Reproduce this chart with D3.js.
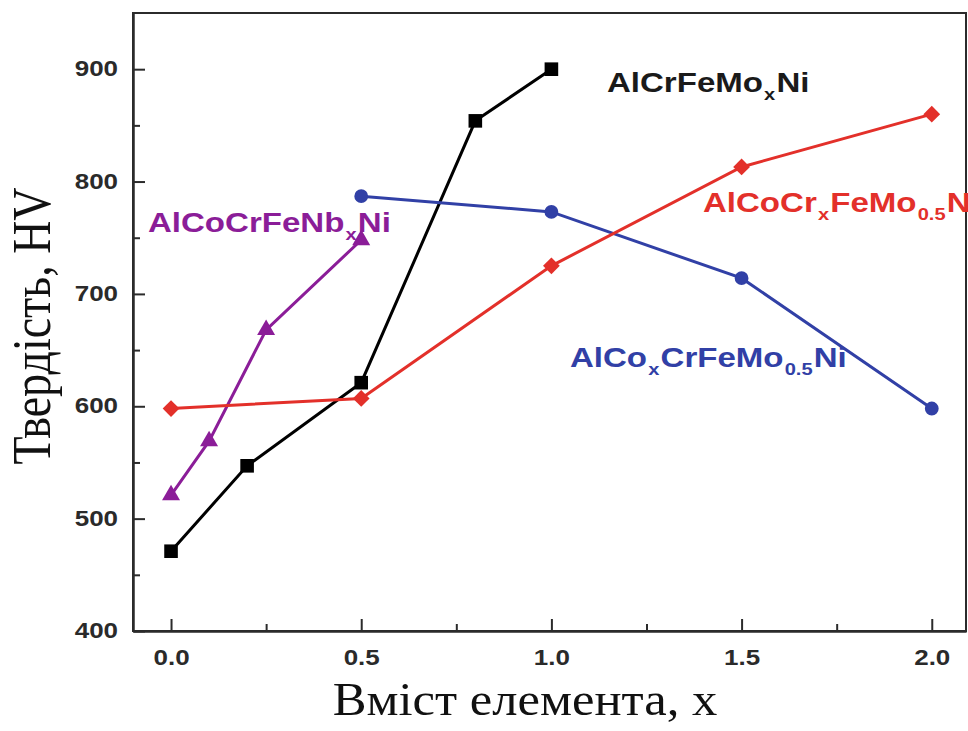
<!DOCTYPE html>
<html>
<head>
<meta charset="utf-8">
<script src="https://cdn.jsdelivr.net/npm/d3@7"></script>
<style>
  html, body { margin: 0; padding: 0; background: #fff; }
  svg { display: block; }
</style>
</head>
<body>
<svg id="chart" width="968" height="731"></svg>
<script>
// Hardness of high-entropy alloys vs. element content x
const xTicks = [0.0, 0.5, 1.0, 1.5, 2.0];
const xMinorTicks = [0.25, 0.75, 1.25, 1.75];
const yTicks = [400, 500, 600, 700, 800, 900];
const yMinorTicks = [450, 550, 650, 750, 850];

const moX = [0.0, 0.2, 0.5, 0.8, 1.0];          // AlCrFeMoxNi
const moHV = [471, 547, 621, 854, 900];
const nbX = [0.0, 0.1, 0.25, 0.5];              // AlCoCrFeNbxNi
const nbHV = [521, 569, 668, 748];
const coX = [0.5, 1.0, 1.5, 2.0];               // AlCoxCrFeMo0.5Ni
const coHV = [787, 773, 714, 598];
const crX = [0.0, 0.5, 1.0, 1.5, 2.0];          // AlCoCrxFeMo0.5Ni
const crHV = [598, 607, 725, 813, 860];

const xTitle = "Вміст елемента, х";
const yTitle = "Твердість, HV";

const svg = d3.select("#chart");
const plotLeft = 133, plotRight = 966, plotTop = 13, plotBottom = 631;
const SX = 1.18; // horizontal glyph stretch

const x = d3.scaleLinear().domain([-0.1, 2.09]).range([plotLeft, plotRight]);
const y = d3.scaleLinear().domain([400, 950]).range([plotBottom, plotTop]);

const axisColor = "#2b2b2b";
const sans = "'Liberation Sans', Arial, sans-serif";
const serif = "'Liberation Serif', 'Times New Roman', serif";

// frame
svg.append("rect")
  .attr("x", plotLeft).attr("y", plotTop)
  .attr("width", plotRight - plotLeft).attr("height", plotBottom - plotTop)
  .attr("fill", "none").attr("stroke", axisColor).attr("stroke-width", 2);

function styleAxis(g) {
  g.selectAll("path.domain").attr("stroke", axisColor).attr("stroke-width", 2);
  g.selectAll(".tick line").attr("stroke", axisColor).attr("stroke-width", 2);
}

// y axis
const gy = svg.append("g").attr("transform", `translate(${plotLeft},0)`)
  .call(d3.axisLeft(y).tickValues(yTicks).tickSize(-12).tickSizeOuter(0).tickPadding(15)
    .tickFormat(d3.format("d")));
styleAxis(gy);
gy.selectAll(".tick text")
  .attr("x", null).attr("dy", "0.3em")
  .attr("transform", `translate(-15,0) scale(${SX},1)`)
  .style("font-family", sans).style("font-weight", "bold")
  .style("font-size", "22px").attr("fill", "#2a2a2a");
const gyMinor = svg.append("g").attr("transform", `translate(${plotLeft},0)`)
  .call(d3.axisLeft(y).tickValues(yMinorTicks).tickSize(-7).tickSizeOuter(0).tickFormat(""));
styleAxis(gyMinor);

// x axis
const gx = svg.append("g").attr("transform", `translate(0,${plotBottom})`)
  .call(d3.axisBottom(x).tickValues(xTicks).tickSize(-12).tickSizeOuter(0).tickPadding(18)
    .tickFormat(d3.format(".1f")));
styleAxis(gx);
gx.selectAll(".tick text")
  .attr("y", null).attr("dy", "0.71em")
  .attr("transform", `translate(0,18) scale(${SX},1)`)
  .style("font-family", sans).style("font-weight", "bold")
  .style("font-size", "22px").attr("fill", "#2a2a2a");
const gxMinor = svg.append("g").attr("transform", `translate(0,${plotBottom})`)
  .call(d3.axisBottom(x).tickValues(xMinorTicks).tickSize(-7).tickSizeOuter(0).tickFormat(""));
styleAxis(gxMinor);

// axis titles
svg.append("g").attr("transform", `translate(525,715) scale(1.1,1)`)
  .append("text").attr("text-anchor", "middle")
  .style("font-family", serif).style("font-size", "46px").attr("fill", "#111")
  .text(xTitle);
svg.append("g").attr("transform", `translate(50,326) scale(${SX},1) rotate(-90)`)
  .append("text").attr("text-anchor", "middle")
  .style("font-family", serif).style("font-size", "46px").attr("fill", "#111")
  .text(yTitle);

// series
const series = [
  { xs: moX, ys: moHV, color: "#000000", symbol: d3.symbolSquare, size: 185, rot: 0 },
  { xs: nbX, ys: nbHV, color: "#8b1d98", symbol: d3.symbolTriangle, size: 140, rot: 0 },
  { xs: coX, ys: coHV, color: "#3140a6", symbol: d3.symbolCircle, size: 150, rot: 0 },
  { xs: crX, ys: crHV, color: "#e3302a", symbol: d3.symbolSquare, size: 140, rot: 45 }
];

const line = d3.line().x(d => x(d[0])).y(d => y(d[1]));

series.forEach(s => {
  const pts = s.xs.map((v, i) => [v, s.ys[i]]);
  svg.append("path").datum(pts)
    .attr("d", line).attr("fill", "none")
    .attr("stroke", s.color).attr("stroke-width", 3);
  svg.append("g").selectAll("path").data(pts).join("path")
    .attr("d", d3.symbol().type(s.symbol).size(s.size))
    .attr("transform", d => `translate(${x(d[0])},${y(d[1])}) rotate(${s.rot})`)
    .attr("fill", s.color);
});

// series labels: parts are [text, isSubscript]
function label(px, py, color, parts) {
  const t = svg.append("g").attr("transform", `translate(${px},${py}) scale(${SX},1)`)
    .append("text")
    .style("font-family", sans).style("font-weight", "bold").style("font-size", "28px")
    .attr("fill", color);
  let shifted = false;
  parts.forEach(([txt, sub]) => {
    const ts = t.append("tspan").text(txt);
    if (sub) { ts.attr("font-size", "17px").attr("dx", 1).attr("dy", shifted ? 0 : 8); shifted = true; }
    else { ts.attr("dx", shifted ? 1 : 0).attr("dy", shifted ? -8 : 0); shifted = false; }
  });
}

label(607, 92, "#1a1a1a", [["AlCrFeMo", false], ["x", true], ["Ni", false]]);
label(148, 232, "#8b1d98", [["AlCoCrFeNb", false], ["x", true], ["Ni", false]]);
label(570, 367, "#3140a6", [["AlCo", false], ["x", true], ["CrFeMo", false], ["0.5", true], ["Ni", false]]);
label(703, 212, "#e3302a", [["AlCoCr", false], ["x", true], ["FeMo", false], ["0.5", true], ["Ni", false]]);
</script>
</body>
</html>
